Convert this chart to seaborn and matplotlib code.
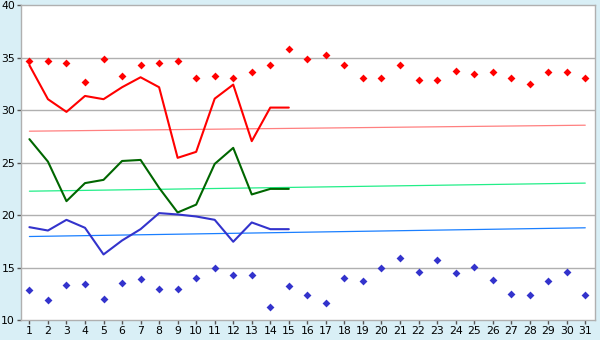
import numpy as np
import pandas as pd
import matplotlib
matplotlib.use("Agg")
import matplotlib.pyplot as plt
import seaborn as sns

days = list(range(1, 32))
days_line = list(range(1, 16))

red_pts = [34.67, 34.67, 34.48, 32.7, 34.86, 33.24, 34.29, 34.48, 34.67, 33.05,
           33.24, 33.05, 33.62, 34.29, 35.81, 34.86, 35.24, 34.29, 33.05, 33.05,
           34.29, 32.86, 32.86, 33.71, 33.43, 33.62, 33.05, 32.48, 33.62, 33.62, 33.05]
blue_pts = [12.82, 11.87, 13.33, 13.39, 12.0, 13.52, 13.9, 12.95, 12.95, 13.96,
            14.92, 14.28, 14.28, 11.24, 13.2, 12.38, 11.62, 13.96, 13.71, 14.92,
            15.87, 14.54, 15.68, 14.48, 15.05, 13.84, 12.44, 12.38, 13.71, 14.54, 12.38]
red_line = [34.29, 31.05, 29.84, 31.36, 31.05, 32.19, 33.14, 32.19, 25.46, 26.03,
            31.1, 32.44, 27.05, 30.25, 30.25]
green_line = [27.24, 25.1, 21.33, 23.05, 23.36, 25.16, 25.26, 22.6, 20.25, 21.0,
              24.88, 26.41, 21.97, 22.5, 22.5]
blue_line = [18.85, 18.53, 19.55, 18.79, 16.25, 17.58, 18.66, 20.19, 20.06, 19.87,
             19.55, 17.46, 19.3, 18.66, 18.66]
trend_days = [1, 31]
red_trend = [28.0, 28.57]
green_trend = [22.28, 23.05]
blue_trend = [17.96, 18.79]

sns.set_theme(style="white")
plt.rcParams['font.family'] = ['DejaVu Sans']

fig = plt.figure(figsize=(6, 3.4), dpi=100)
fig.patch.set_facecolor('#d9eff6')
ax = fig.add_axes([0.0345, 0.0588, 0.957, 0.9256])
ax.set_facecolor('white')

grid_c = '#b0b0b0'
for v in [15, 20, 25, 30, 35]:
    ax.axhline(v, color=grid_c, lw=1.0, zorder=0)

tr = pd.DataFrame({'day': trend_days, 'r': red_trend, 'g': green_trend, 'b': blue_trend})
sns.lineplot(data=tr, x='day', y='r', ax=ax, color='#ff8080', lw=0.9)
sns.lineplot(data=tr, x='day', y='g', ax=ax, color='#22ee88', lw=0.9)
sns.lineplot(data=tr, x='day', y='b', ax=ax, color='#1a7fff', lw=0.9)

ln = pd.DataFrame({'day': days_line, 'r': red_line, 'g': green_line, 'b': blue_line})
sns.lineplot(data=ln, x='day', y='r', ax=ax, color='#ff0000', lw=1.5)
sns.lineplot(data=ln, x='day', y='g', ax=ax, color='#006600', lw=1.5)
sns.lineplot(data=ln, x='day', y='b', ax=ax, color='#3333cc', lw=1.5)

pts = pd.DataFrame({'day': days, 'r': red_pts, 'b': blue_pts})
sns.scatterplot(data=pts, x='day', y='r', ax=ax, color='#ff0000', marker='D', s=16, linewidth=0)
sns.scatterplot(data=pts, x='day', y='b', ax=ax, color='#3333cc', marker='D', s=16, linewidth=0)

ax.set_xlim(0.53, 31.52)
ax.set_ylim(10, 40)
ax.set_xticks(days)
ax.set_xticklabels([str(d) for d in days])
ax.set_yticks([10, 15, 20, 25, 30, 35, 40])
ax.set_xlabel('')
ax.set_ylabel('')
for s in ax.spines.values():
    s.set_color(grid_c)
    s.set_linewidth(1.0)
ax.tick_params(axis='both', which='both', length=3, width=1, color='#555555',
               labelsize=7.8, labelcolor='black', pad=1, direction='out')
ax.tick_params(left=True, bottom=True)
ax.grid(False)

fig.savefig('out.png', dpi=100, facecolor=fig.get_facecolor())
